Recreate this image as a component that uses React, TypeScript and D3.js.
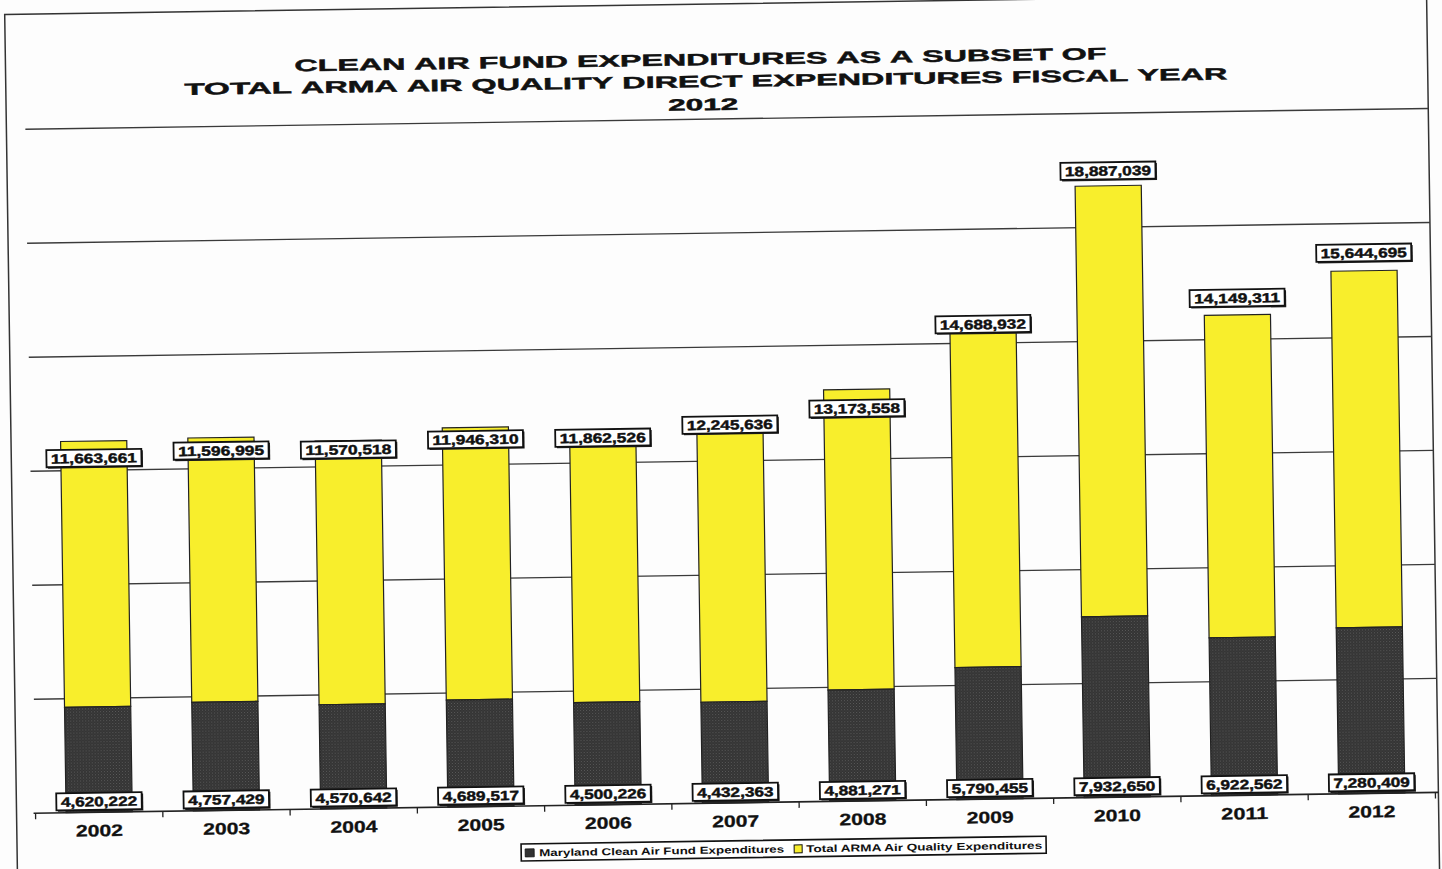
import React from 'react';
import * as d3 from 'd3';

const years = ['2002', '2003', '2004', '2005', '2006', '2007', '2008', '2009', '2010', '2011', '2012'];
const cleanAirFund = [4620222, 4757429, 4570642, 4689517, 4500226, 4432363, 4881271, 5790455, 7932650, 6922562, 7280409];
const totalArma = [11663661, 11596995, 11570518, 11946310, 11862526, 12245636, 13173558, 14688932, 18887039, 14149311, 15644695];
const gridValues = [5000000, 10000000, 15000000, 20000000, 25000000, 30000000];
const titleLines = [
  'CLEAN AIR FUND EXPENDITURES AS A SUBSET OF',
  'TOTAL ARMA AIR QUALITY DIRECT EXPENDITURES FISCAL YEAR',
  '2012',
];
const legendLabels = ['Maryland Clean Air Fund Expenditures', 'Total ARMA Air Quality Expenditures'];

const W = 1442;
const H = 869;
const FONT = '"Liberation Sans", Arial, sans-serif';
const YELLOW = '#f8ee2c';
const DARK = '#333333';

const fmt = d3.format(',');

const ARIAL_BOLD: Record<string, number> = {
  A: 722, B: 722, C: 722, D: 722, E: 667, F: 611, G: 778, H: 722, I: 278, J: 556, K: 722, L: 611, M: 833,
  N: 722, O: 778, P: 667, Q: 778, R: 722, S: 667, T: 611, U: 722, V: 667, W: 944, X: 667, Y: 667, Z: 611,
  ' ': 278,
};
function charW(c: string) {
  if (ARIAL_BOLD[c] !== undefined) return ARIAL_BOLD[c];
  return 556;
}
function strW(s: string) {
  let n = 0;
  for (const c of s) n += charW(c);
  return n;
}

function numLen(s: string) {
  let n = 0;
  for (const c of s) n += c === ',' ? 4.6 : 9.6;
  return n;
}

function LabelBox({ cx, cy, text }: { cx: number; cy: number; text: string }) {
  const tl = numLen(text);
  const w = tl + 9;
  const h = 17;
  return (
    <g>
      <rect x={cx - w / 2 + 1.5} y={cy - h / 2 + 1.5} width={w} height={h} fill="#222" />
      <rect x={cx - w / 2} y={cy - h / 2} width={w} height={h} fill="#fff" stroke="#111" strokeWidth={1.8} />
      <text
        x={cx - tl / 2}
        y={cy + 5}
        fontFamily={FONT}
        fontWeight={700}
        fontSize={13.5}
        fill="#111"
        stroke="#111"
        strokeWidth={0.45}
        textLength={tl}
        lengthAdjust="spacingAndGlyphs"
      >
        {text}
      </text>
    </g>
  );
}

function TitleLine({ text, cx, y, len }: { text: string; cx: number; y: number; len: number }) {
  const words = text.split(' ');
  const scale = len / strW(text);
  let cursor = cx - len / 2;
  const spaceW = charW(' ') * scale;
  return (
    <g>
      {words.map((wd, k) => {
        const wl = strW(wd) * scale;
        const x0 = cursor;
        cursor += wl + spaceW;
        return (
          <text
            key={k}
            x={x0}
            y={y}
            fontFamily={FONT}
            fontWeight={700}
            fontSize={16.5}
            fill="#111"
            stroke="#111"
            strokeWidth={0.45}
            textLength={wl}
            lengthAdjust="spacingAndGlyphs"
          >
            {wd}
          </text>
        );
      })}
    </g>
  );
}

export default function App() {
  const x = d3.scaleBand<string>().domain(years).range([30, 1430]).padding(0);
  const y = d3.scaleLinear().domain([0, 30000000]).range([803, 119]);
  const barW = x.bandwidth() * 0.52;
  const totalNudge = [17, 13, 9, 12, 6, 2, 19, -8, -15, -17, -18];

  const stacked = years.map((yr, i) => ({
    yr,
    base: cleanAirFund[i],
    top: cleanAirFund[i] + totalArma[i],
    i,
  }));

  const titleLens = [812, 1043, 70];
  const titleCx = [706, 711, 708];
  const titleY = [65, 87, 110];

  return (
    <svg
      width={W}
      height={H}
      style={{ position: 'absolute', left: 0, top: 0, background: '#fff' }}
      xmlns="http://www.w3.org/2000/svg"
    >
      <defs>
        <pattern id="halftone" width="3" height="3" patternUnits="userSpaceOnUse">
          <rect width="3" height="3" fill={DARK} />
          <rect x="0" y="0" width="1" height="1" fill="#5a5a5a" />
          <rect x="1.5" y="1.5" width="1" height="1" fill="#4a4a4a" />
        </pattern>
      </defs>
      <rect width={W} height={H} fill="#fdfdfd" />
      <g transform="rotate(-0.85, 720, 434)">
        {/* outer frame */}
        <rect x={11} y={4} width={1422} height={880} fill="none" stroke="#333" strokeWidth={1.5} />

        {/* title */}
        {titleLines.map((t, k) => (
          <TitleLine key={k} text={t} cx={titleCx[k]} y={titleY[k]} len={titleLens[k]} />
        ))}

        {/* gridlines */}
        {gridValues.map((v) => (
          <line key={v} x1={30} x2={1433} y1={y(v)} y2={y(v)} stroke="#3a3a3a" strokeWidth={1.4} />
        ))}

        {/* bars */}
        {stacked.map((d) => {
          const cx = (x(d.yr) as number) + x.bandwidth() / 2;
          return (
            <g key={d.yr}>
              <rect
                x={cx - barW / 2}
                y={y(d.top)}
                width={barW}
                height={y(d.base) - y(d.top)}
                fill={YELLOW}
                stroke="#222"
                strokeWidth={1.2}
              />
              <rect
                x={cx - barW / 2}
                y={y(d.base)}
                width={barW}
                height={y(0) - y(d.base)}
                fill="url(#halftone)"
                stroke="#222"
                strokeWidth={1.2}
              />
            </g>
          );
        })}

        {/* x axis */}
        <line x1={28} x2={1433} y1={y(0)} y2={y(0)} stroke="#222" strokeWidth={1.6} />
        {years.map((yr) => (
          <line
            key={'t' + yr}
            x1={x(yr) as number}
            x2={x(yr) as number}
            y1={y(0)}
            y2={y(0) + 6}
            stroke="#222"
            strokeWidth={1.3}
          />
        ))}
        <line x1={1430} x2={1430} y1={y(0)} y2={y(0) + 6} stroke="#222" strokeWidth={1.3} />

        {/* labels */}
        {stacked.map((d) => {
          const cx = (x(d.yr) as number) + x.bandwidth() / 2;
          return (
            <g key={'l' + d.yr}>
              <LabelBox cx={cx} cy={y(d.top) + totalNudge[d.i]} text={fmt(totalArma[d.i])} />
              <LabelBox cx={cx} cy={y(0) - 11} text={fmt(cleanAirFund[d.i])} />
              <text
                x={cx - 23.5}
                y={y(0) + 24}
                fontFamily={FONT}
                fontWeight={700}
                fontSize={16.5}
                fill="#111"
                stroke="#111"
                strokeWidth={0.3}
                textLength={47}
                lengthAdjust="spacingAndGlyphs"
              >
                {d.yr}
              </text>
            </g>
          );
        })}

        {/* legend */}
        <g>
          <rect x={515} y={841} width={525} height={17} fill="#fff" stroke="#111" strokeWidth={1.6} />
          <rect x={519} y={846} width={9} height={8} fill={DARK} stroke="#111" strokeWidth={0.8} />
          <text
            x={533}
            y={853.5}
            fontFamily={FONT}
            fontWeight={700}
            fontSize={10}
            fill="#111"
            textLength={245}
            lengthAdjust="spacingAndGlyphs"
          >
            {legendLabels[0]}
          </text>
          <rect x={788} y={846} width={8} height={8} fill={YELLOW} stroke="#111" strokeWidth={1} />
          <text
            x={800}
            y={853.5}
            fontFamily={FONT}
            fontWeight={700}
            fontSize={10}
            fill="#111"
            textLength={236}
            lengthAdjust="spacingAndGlyphs"
          >
            {legendLabels[1]}
          </text>
        </g>
      </g>
    </svg>
  );
}
